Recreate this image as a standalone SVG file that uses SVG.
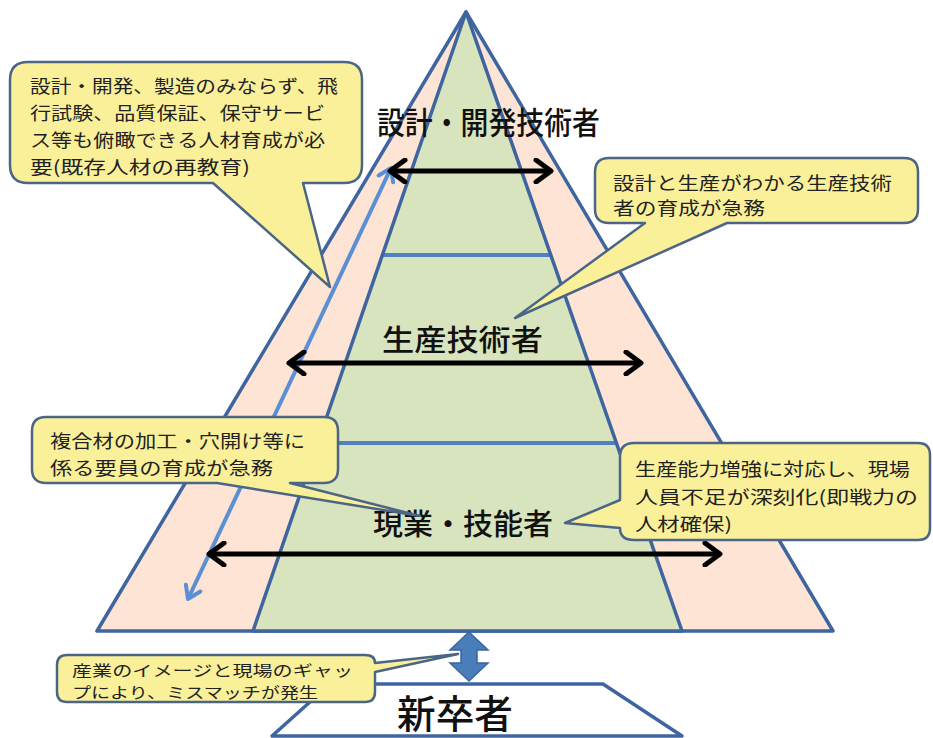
<svg xmlns="http://www.w3.org/2000/svg" width="933" height="738" viewBox="0 0 933 738">
<defs>
<style>
.tri{stroke:#3e659f;stroke-width:3.5;stroke-linejoin:round}
.div{stroke:#4f81c2;stroke-width:4}
.blk{stroke:#000;stroke-width:5;fill:none}
.lbl{font-family:"Noto Sans CJK JP","Noto Sans CJK SC",sans-serif;fill:#111;font-weight:500}
.co{fill:#faf09a;stroke:#4b6586;stroke-width:2.5;stroke-linejoin:round}
.ct{font-family:"Noto Sans CJK JP","Noto Sans CJK SC",sans-serif;font-size:18px;fill:#222}
.cs{font-size:15px}
</style>
<marker id="chev" viewBox="0 0 22 26" refX="19" refY="13" markerWidth="22" markerHeight="26" markerUnits="userSpaceOnUse" orient="auto-start-reverse">
<path d="M4,2 L19,13 L4,24" fill="none" stroke="#000" stroke-width="5" stroke-linecap="round" stroke-linejoin="round"/>
</marker>
<marker id="bchev" viewBox="0 0 18 20" refX="15" refY="10" markerWidth="18" markerHeight="20" markerUnits="userSpaceOnUse" orient="auto-start-reverse">
<path d="M3,2 L15,10 L3,18" fill="none" stroke="#5b8fd4" stroke-width="4" stroke-linecap="round" stroke-linejoin="round"/>
</marker>
</defs>
<rect width="933" height="738" fill="#fff"/>

<g id="pyramid">
<polygon class="tri" points="466,12 97,631 833,631" fill="#fde4d4"/>
<polygon points="466,12 253,631 682,631" fill="#d7e4bd"/>
<line class="div" x1="382" y1="255" x2="551" y2="255"/>
<line class="div" x1="318" y1="443" x2="616" y2="443"/>
<polygon class="tri" points="466,12 253,631 682,631" fill="none"/>
</g>

<g id="connectors">
<line x1="391" y1="168" x2="188" y2="599" stroke="#5b8fd4" stroke-width="4" marker-start="url(#bchev)" marker-end="url(#bchev)"/>
<line class="blk" x1="390" y1="171" x2="551" y2="171" marker-start="url(#chev)" marker-end="url(#chev)"/>
<line class="blk" x1="289" y1="363" x2="641" y2="363" marker-start="url(#chev)" marker-end="url(#chev)"/>
<line class="blk" x1="209" y1="554" x2="720" y2="554" marker-start="url(#chev)" marker-end="url(#chev)"/>
<path d="M469,632 L488,650 L477,650 L477,663 L488,663 L469,681 L450,663 L461,663 L461,650 L450,650 Z" fill="#4a7ebb" stroke="#3a66a0" stroke-width="1.5"/>
</g>

<g id="label-design">
<text class="lbl" x="377" y="134" font-size="31" textLength="223" lengthAdjust="spacingAndGlyphs">設計・開発技術者</text>
</g>
<g id="label-production">
<text class="lbl" x="382" y="351" font-size="29" textLength="161" lengthAdjust="spacingAndGlyphs">生産技術者</text>
</g>
<g id="label-field">
<text class="lbl" x="373" y="535" font-size="29" textLength="180" lengthAdjust="spacingAndGlyphs">現業・技能者</text>
</g>

<g id="newgrad">
<polygon points="330,684 603,684 682,736 272,736" fill="#fff" stroke="#3e659f" stroke-width="3.5" stroke-linejoin="round"/>
<text class="lbl" x="397" y="728" font-size="39" textLength="116" lengthAdjust="spacingAndGlyphs">新卒者</text>
</g>

<g id="callout-top-left">
<path class="co" d="M28,62 H344 Q362,62 362,80 V165 Q362,183 344,183 H303 L330,287 L213,183 H28 Q10,183 10,165 V80 Q10,62 28,62 Z"/>
<text class="ct" x="30" y="93" textLength="308" lengthAdjust="spacingAndGlyphs">設計・開発、製造のみならず、飛</text>
<text class="ct" x="30" y="120" textLength="295" lengthAdjust="spacingAndGlyphs">行試験、品質保証、保守サービ</text>
<text class="ct" x="30" y="147" textLength="295" lengthAdjust="spacingAndGlyphs">ス等も俯瞰できる人材育成が必</text>
<text class="ct" x="30" y="174" textLength="220" lengthAdjust="spacingAndGlyphs">要(既存人材の再教育)</text>
</g>

<g id="callout-top-right">
<path class="co" d="M609,158 H904 Q918,158 918,172 V209 Q918,223 904,223 H727 L515,318 L645,223 H609 Q595,223 595,209 V172 Q595,158 609,158 Z"/>
<text class="ct" x="613" y="190" textLength="279" lengthAdjust="spacingAndGlyphs">設計と生産がわかる生産技術</text>
<text class="ct" x="613" y="215" textLength="152" lengthAdjust="spacingAndGlyphs">者の育成が急務</text>
</g>

<g id="callout-mid-left">
<path class="co" d="M46,417 H324 Q338,417 338,431 V469 Q338,483 324,483 H290 L420,516 L217,483 H46 Q32,483 32,469 V431 Q32,417 46,417 Z"/>
<text class="ct" x="50" y="448" textLength="255" lengthAdjust="spacingAndGlyphs">複合材の加工・穴開け等に</text>
<text class="ct" x="50" y="475" textLength="223" lengthAdjust="spacingAndGlyphs">係る要員の育成が急務</text>
</g>

<g id="callout-mid-right">
<path class="co" d="M634,443 H918 Q930,443 930,455 V528 Q930,540 918,540 H634 Q620,540 620,528 L565,523 L620,500 V457 Q620,443 634,443 Z"/>
<text class="ct" x="635" y="476" textLength="275" lengthAdjust="spacingAndGlyphs">生産能力増強に対応し、現場</text>
<text class="ct" x="635" y="504" textLength="283" lengthAdjust="spacingAndGlyphs">人員不足が深刻化(即戦力の</text>
<text class="ct" x="635" y="531" textLength="97" lengthAdjust="spacingAndGlyphs">人材確保)</text>
</g>

<g id="callout-bottom">
<path class="co" d="M67,655 H365 Q375,655 375,663 L458,654 L375,672 V692 Q375,702 365,702 H67 Q57,702 57,692 V665 Q57,655 67,655 Z"/>
<text class="ct cs" x="72" y="676" textLength="281" lengthAdjust="spacingAndGlyphs">産業のイメージと現場のギャッ</text>
<text class="ct cs" x="72" y="698" textLength="246" lengthAdjust="spacingAndGlyphs">プにより、ミスマッチが発生</text>
</g>
</svg>
